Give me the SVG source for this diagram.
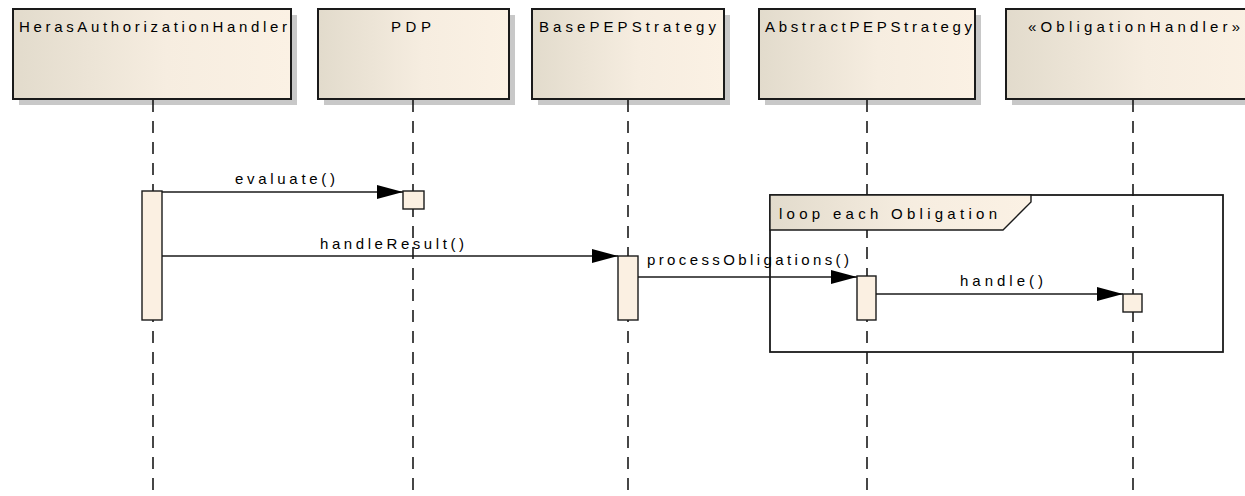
<svg xmlns="http://www.w3.org/2000/svg" width="1245" height="496" viewBox="0 0 1245 496">
<defs>
<linearGradient id="g" x1="0" y1="0" x2="1" y2="0">
<stop offset="0" stop-color="#e2dbcc"/>
<stop offset="0.55" stop-color="#f6ede0"/>
<stop offset="1" stop-color="#fbf1e4"/>
</linearGradient>
<marker id="ah" viewBox="0 0 26 14" refX="26" refY="7" markerWidth="26" markerHeight="14" markerUnits="userSpaceOnUse" orient="auto">
<path d="M0,0 L26,7 L0,14 Z" fill="#000"/>
</marker>
<style>
.head{fill:url(#g);stroke:#1a1a1a;stroke-width:2}
.shadow{fill:#c8c8c8}
.life{stroke:#1a1a1a;stroke-width:1.6;stroke-dasharray:12 9;fill:none}
.act{fill:#fbf0e2;stroke:#1a1a1a;stroke-width:1.4}
.msg{stroke:#1a1a1a;stroke-width:1.4;fill:none;marker-end:url(#ah)}
text{font-family:"Liberation Sans",Arial,sans-serif;font-size:15px;fill:#000}
.frame{fill:none;stroke:#1a1a1a;stroke-width:1.8}
.tab{fill:url(#g);stroke:#1a1a1a;stroke-width:1.4}
</style>
</defs>
<rect width="1245" height="496" fill="#fff"/>

<g id="HerasAuthorizationHandler">
<rect class="shadow" x="19" y="15" width="278" height="90"/>
<rect class="head" x="13" y="9" width="278" height="90"/>
<text x="19" y="32" textLength="268" lengthAdjust="spacing">HerasAuthorizationHandler</text>
<line class="life" x1="153" y1="100" x2="153" y2="496"/>
<rect class="act" x="142" y="191" width="20" height="129"/>
</g>

<g id="PDP">
<rect class="shadow" x="324" y="15" width="191" height="90"/>
<rect class="head" x="318" y="9" width="191" height="90"/>
<text x="391" y="32" textLength="40" lengthAdjust="spacing">PDP</text>
<line class="life" x1="413" y1="100" x2="413" y2="496"/>
<rect class="act" x="403" y="191" width="21" height="18"/>
</g>

<g id="BasePEPStrategy">
<rect class="shadow" x="538" y="15" width="192" height="90"/>
<rect class="head" x="532" y="9" width="192" height="90"/>
<text x="539" y="32" textLength="177" lengthAdjust="spacing">BasePEPStrategy</text>
<line class="life" x1="628" y1="100" x2="628" y2="496"/>
<rect class="act" x="618" y="256" width="20" height="64"/>
</g>

<g id="AbstractPEPStrategy">
<rect class="shadow" x="765" y="15" width="216" height="90"/>
<rect class="head" x="759" y="9" width="216" height="90"/>
<text x="765" y="32" textLength="207" lengthAdjust="spacing">AbstractPEPStrategy</text>
<line class="life" x1="867" y1="100" x2="867" y2="496"/>
<rect class="act" x="857" y="276" width="19" height="44"/>
</g>

<g id="ObligationHandler">
<rect class="shadow" x="1012" y="15" width="254" height="90"/>
<rect class="head" x="1006" y="9" width="254" height="90"/>
<text x="1028" y="32" textLength="212" lengthAdjust="spacing">«ObligationHandler»</text>
<line class="life" x1="1133" y1="100" x2="1133" y2="496"/>
<rect class="act" x="1123" y="294" width="19" height="18"/>
</g>

<g id="loop">
<rect class="frame" x="770" y="195" width="453" height="157"/>
<path class="tab" d="M770,195 L1031,195 L1031,202 L1003,230 L770,230 Z"/>
<text x="779" y="219" textLength="218" lengthAdjust="spacing">loop each Obligation</text>
</g>

<g id="connectors">
<line class="msg" x1="162" y1="192" x2="403" y2="192"/>
<text x="235" y="184" textLength="100" lengthAdjust="spacing">evaluate()</text>
<line class="msg" x1="162" y1="256" x2="618" y2="256"/>
<text x="320" y="249" textLength="144" lengthAdjust="spacing">handleResult()</text>
<line class="msg" x1="638" y1="277" x2="857" y2="277"/>
<text x="647" y="265" textLength="202" lengthAdjust="spacing">processObligations()</text>
<line class="msg" x1="876" y1="294" x2="1123" y2="294"/>
<text x="960" y="286" textLength="83" lengthAdjust="spacing">handle()</text>
</g>
</svg>
